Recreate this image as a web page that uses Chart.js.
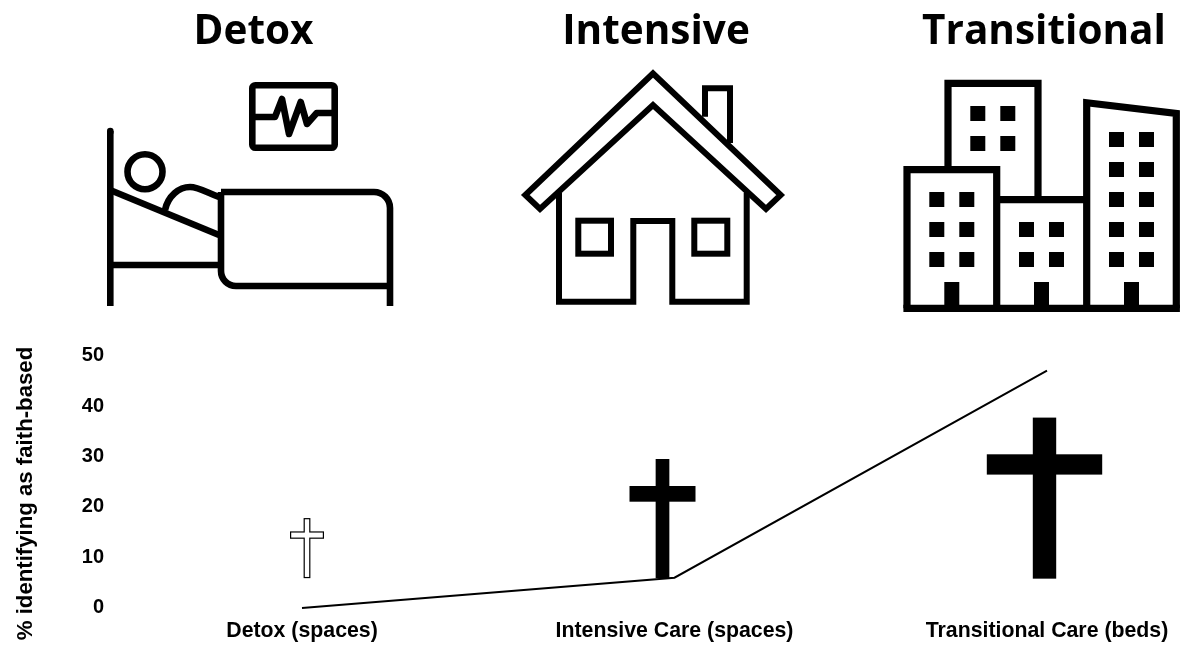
<!DOCTYPE html>
<html>
<head>
<meta charset="utf-8">
<title>Faith-based care by level</title>
<script src="https://cdn.jsdelivr.net/npm/chart.js@4"></script>
<style>
  html, body { margin: 0; padding: 0; background: #fff; overflow: hidden; }
  #wrap { position: relative; width: 1200px; height: 672px; }
</style>
</head>
<body>
<div id="wrap"><canvas id="chart"></canvas></div>
<script>
// Chart data
const categories = ["Detox (spaces)", "Intensive Care (spaces)", "Transitional Care (beds)"];
const faithBased = [0, 6, 47];
const yTicks = [0, 10, 20, 30, 40, 50];
const panelTitles = ["Detox", "Intensive", "Transitional"];
const yAxisTitle = "% identifying as faith-based";
// Cross marks, in axis units
const crossBase = [5.9, 5.9, 5.8];
const crossTop = [17.8, 29.5, 37.7];

const BLACK = "#000";

// Pixel look of each cross
const crossStyles = [
  { dx: 5, shaft: 6.8, armWidth: 34, armHeight: 7.4, armDrop: 13.3, hollow: true },
  { dx: -12, shaft: 13.7, armWidth: 66, armHeight: 15.7, armDrop: 27, hollow: false },
  { dx: -2.5, shaft: 23.4, armWidth: 115.4, armHeight: 20.3, armDrop: 36.7, hollow: false },
];

const titleSpots = [253.5, 656, 1044];

function strokePath(ctx, points, close) {
  ctx.beginPath();
  points.forEach((p, i) => (i ? ctx.lineTo(p[0], p[1]) : ctx.moveTo(p[0], p[1])));
  if (close) ctx.closePath();
  ctx.stroke();
}

function drawBed(ctx) {
  ctx.lineWidth = 6.6;
  ctx.lineCap = "butt";
  ctx.lineJoin = "round";
  // head post and rail
  strokePath(ctx, [[110.3, 131], [110.3, 306]]);
  ctx.lineCap = "round";
  strokePath(ctx, [[110.3, 131], [110.3, 132]]);
  ctx.lineCap = "butt";
  strokePath(ctx, [[110, 265], [221, 265]]);
  strokePath(ctx, [[110, 190], [219, 235]]);
  // patient
  ctx.beginPath();
  ctx.arc(145, 171.7, 17.5, 0, Math.PI * 2);
  ctx.stroke();
  ctx.beginPath();
  ctx.moveTo(165, 210);
  ctx.bezierCurveTo(168, 196, 179, 187, 190, 187);
  ctx.bezierCurveTo(198, 187, 204, 191, 219, 197);
  ctx.stroke();
  // blanket
  ctx.beginPath();
  ctx.moveTo(221, 192);
  ctx.lineTo(374, 192);
  ctx.arcTo(390, 192, 390, 208, 16);
  ctx.lineTo(390, 306);
  ctx.moveTo(390, 286);
  ctx.lineTo(237, 286);
  ctx.arcTo(221, 286, 221, 270, 15);
  ctx.lineTo(221, 192);
  ctx.stroke();
  // monitor
  ctx.beginPath();
  ctx.roundRect(252.3, 85.3, 82.4, 62.4, 3);
  ctx.stroke();
  strokePath(ctx, [[252, 117], [275, 117], [282, 99], [289, 134], [300.7, 102], [307, 124], [316.7, 113], [335, 113]]);
}

function drawHouse(ctx) {
  ctx.lineWidth = 6;
  ctx.lineCap = "butt";
  ctx.lineJoin = "miter";
  strokePath(ctx, [[653, 73.5], [780.7, 195], [766, 209], [653, 105], [540, 209], [525.3, 195]], true);
  strokePath(ctx, [[559, 193], [559, 301.7], [633.3, 301.7], [633.3, 221], [672.3, 221], [672.3, 301.7], [746.7, 301.7], [746.7, 193]]);
  ctx.strokeRect(578.3, 220.7, 32.7, 33);
  ctx.strokeRect(694.3, 220.7, 33, 33);
  strokePath(ctx, [[705, 116.7], [705, 88.3], [730, 88.3], [730, 143]]);
}

function drawCity(ctx) {
  ctx.lineWidth = 7.2;
  ctx.lineCap = "butt";
  ctx.lineJoin = "miter";
  strokePath(ctx, [[948, 167], [948, 83.3], [1038, 83.3], [1038, 198]]);
  strokePath(ctx, [[996.7, 199.7], [1086.7, 199.7]]);
  strokePath(ctx, [[907, 308.3], [907, 169.7], [996.7, 169.7], [996.7, 308.3]]);
  strokePath(ctx, [[1086.7, 308.3], [1086.7, 102.7], [1176.3, 113.5], [1176.3, 308.3]]);
  strokePath(ctx, [[903.4, 308.3], [1179.9, 308.3]]);
  ctx.fillStyle = BLACK;
  const windows = [
    { xs: [970.3, 1000.3], ys: [106, 136] },
    { xs: [929.3, 959.3], ys: [192, 222, 252] },
    { xs: [1019, 1049], ys: [222, 252] },
    { xs: [1109, 1139], ys: [132, 162, 192, 222, 252] },
  ];
  windows.forEach((w) => {
    w.xs.forEach((x) => w.ys.forEach((y) => ctx.fillRect(x, y, 15, 15)));
  });
  [944.3, 1034, 1124].forEach((x) => ctx.fillRect(x, 282, 15, 24));
}

// Icons and titles above the plot
const headerPlugin = {
  id: "header",
  beforeDraw(chart) {
    const ctx = chart.ctx;
    ctx.save();
    ctx.fillStyle = "#fff";
    ctx.fillRect(0, 0, chart.width, chart.height);
    ctx.fillStyle = BLACK;
    ctx.strokeStyle = BLACK;
    ctx.font = "bold 40.5px 'Open Sans'";
    ctx.textAlign = "center";
    ctx.textBaseline = "alphabetic";
    panelTitles.forEach((t, i) => ctx.fillText(t, titleSpots[i], 44));
    drawBed(ctx);
    drawHouse(ctx);
    drawCity(ctx);
    // axis title sits lower than the scale's centre, so it is placed by hand
    ctx.translate(26, 493.5);
    ctx.rotate(-Math.PI / 2);
    ctx.font = "bold 22.2px 'Liberation Sans'";
    ctx.textBaseline = "middle";
    ctx.fillText(yAxisTitle, 0, 0);
    ctx.restore();
  },
};

// Crosses stand on the y scale at each category
const crossPlugin = {
  id: "crosses",
  afterDatasetsDraw(chart) {
    const ctx = chart.ctx;
    const x = chart.scales.x;
    const y = chart.scales.y;
    ctx.save();
    crossStyles.forEach((s, i) => {
      const cx = x.getPixelForValue(i) + s.dx;
      const top = y.getPixelForValue(crossTop[i]);
      const bottom = y.getPixelForValue(crossBase[i]);
      const paint = (inset) => {
        ctx.fillRect(cx - s.shaft / 2 + inset, top + inset, s.shaft - inset * 2, bottom - top - inset * 2);
        ctx.fillRect(cx - s.armWidth / 2 + inset, top + s.armDrop + inset, s.armWidth - inset * 2, s.armHeight - inset * 2);
      };
      ctx.fillStyle = BLACK;
      paint(0);
      if (s.hollow) {
        ctx.fillStyle = "#fff";
        paint(1.2);
      }
    });
    ctx.restore();
  },
};

new Chart(document.getElementById("chart"), {
  type: "line",
  data: {
    labels: categories,
    datasets: [
      {
        label: yAxisTitle,
        data: faithBased,
        borderColor: BLACK,
        borderWidth: 2,
        pointRadius: 0,
        tension: 0,
        fill: false,
        clip: false,
      },
    ],
  },
  options: {
    responsive: true,
    maintainAspectRatio: false,
    animation: false,
    layout: { padding: { top: 355.5, right: 153, left: 0, bottom: 18.5 } },
    plugins: { legend: { display: false }, tooltip: { enabled: false } },
    scales: {
      x: {
        type: "category",
        offset: false,
        grid: { display: false, drawTicks: false },
        border: { display: false },
        ticks: {
          color: BLACK,
          autoSkip: false,
          maxRotation: 0,
          padding: 10,
          font: { family: "'Liberation Sans'", weight: "bold", size: 21.3 },
        },
      },
      y: {
        min: 0,
        max: 50,
        grid: { display: false, drawTicks: false },
        border: { display: false },
        afterBuildTicks(scale) {
          scale.ticks = yTicks.map((v) => ({ value: v }));
        },
        ticks: {
          color: BLACK,
          padding: 198,
          font: { family: "'Liberation Sans'", weight: "bold", size: 20 },
        },
        afterFit(scale) {
          // the big tick padding would otherwise eat the plot height
          scale.width = 302;
          scale.paddingTop = 0;
          scale.paddingBottom = 0;
        },
      },
    },
  },
  plugins: [headerPlugin, crossPlugin],
});
</script>
</body>
</html>
